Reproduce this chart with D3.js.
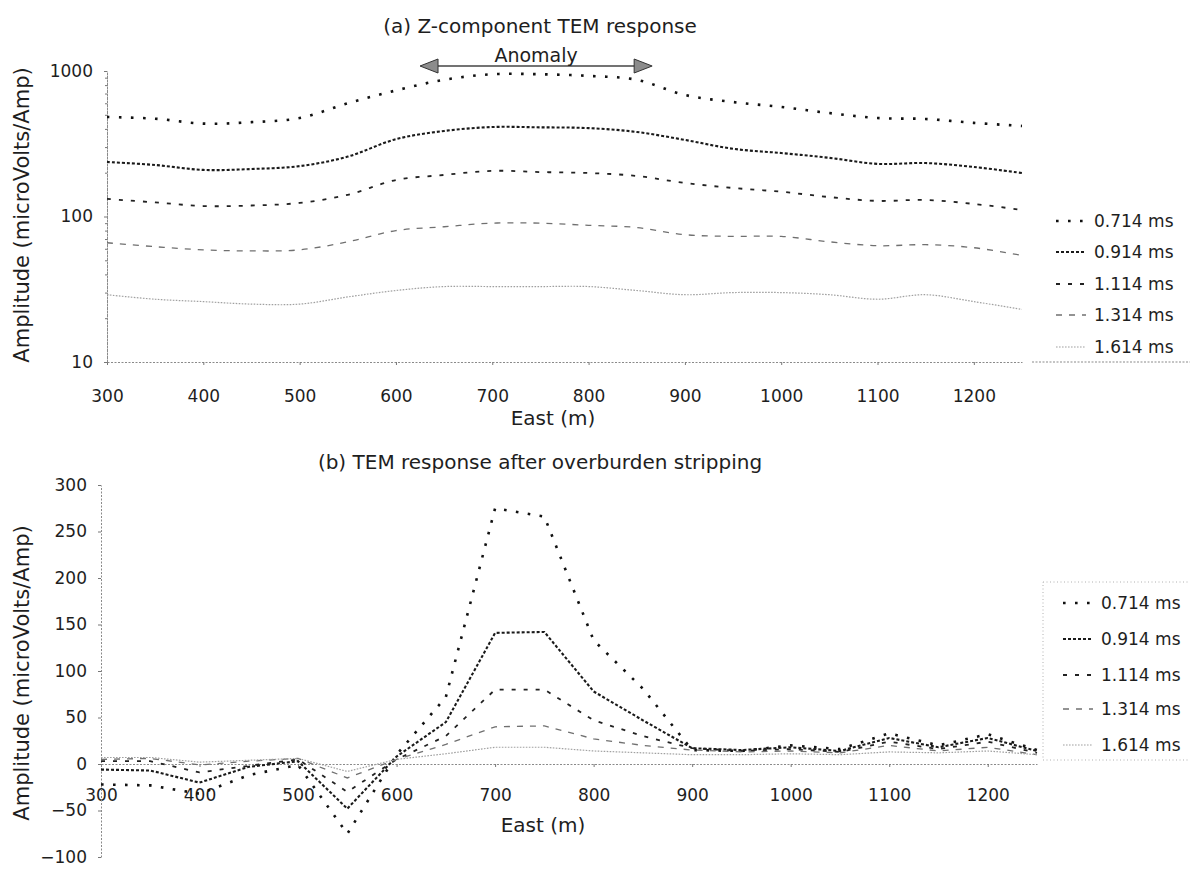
<!DOCTYPE html>
<html>
<head>
<meta charset="utf-8">
<script src="https://cdn.jsdelivr.net/npm/d3@7"></script>
<style>
    body { margin: 0; background: #fff; }
    svg text { font-family: "DejaVu Sans", sans-serif; fill: #1e1e1e; }
    .axis path.domain { stroke: #8a8a8a; stroke-dasharray: 2 1.5; }
    .axis line { stroke: #777; }
</style>
</head>
<body>
<svg id="fig" width="1190" height="870"></svg>
<script>
// station positions (m)
const east = [300, 350, 400, 450, 500, 550, 600, 650, 700, 750,
              800, 850, 900, 950, 1000, 1050, 1100, 1150, 1200, 1250];
const delays = ["0.714 ms", "0.914 ms", "1.114 ms", "1.314 ms", "1.614 ms"];

// (a) Z-component response, microVolts/Amp
const za_0714 = [483, 470, 435, 445, 475, 600, 735, 870, 950, 950, 925, 870, 684, 612, 566, 514, 475, 468, 440, 419];
const za_0914 = [237, 226, 209, 212, 222, 258, 340, 387, 412, 410, 405, 381, 336, 292, 273, 253, 230, 233, 219, 199];
const za_1114 = [132, 125, 118, 119, 124, 141, 178, 193, 206, 202, 199, 190, 170, 157, 148, 136, 128, 130, 122, 111];
const za_1314 = [66, 62, 59, 58, 59, 67, 80, 85, 90, 90, 87, 84, 75, 73, 73, 67, 63, 64, 61, 54];
const za_1614 = [29, 27, 26, 25, 25, 28, 31, 33, 33, 33, 33, 31, 29, 30, 30, 29, 27, 29, 26, 23];

// (b) after overburden stripping
const zb_0714 = [-22, -23, -32, -12, -1, -75, 10, 72, 275, 266, 133, 81, 15, 14, 20, 16, 33, 20, 32, 15];
const zb_0914 = [-6, -7, -20, -3, 3, -48, 8, 45, 141, 142, 78, 47, 17, 15, 18, 14, 28, 18, 28, 14];
const zb_1114 = [3, 3, -9, -2, 5, -30, 5, 30, 80, 80, 47, 30, 17, 14, 16, 13, 24, 16, 24, 12];
const zb_1314 = [5, 6, -1, 3, 6, -15, 5, 21, 40, 41, 27, 20, 15, 13, 14, 12, 20, 14, 18, 10];
const zb_1614 = [7, 7, 2, 4, 6, -8, 5, 11, 18, 18, 14, 12, 10, 10, 11, 10, 13, 12, 14, 10];

const xTicks = [300, 400, 500, 600, 700, 800, 900, 1000, 1100, 1200];
const anomalyRange = [625, 866];

// line look for each delay (Excel-like dash styles)
const styles = [
    {color: "#111", width: 2.6, dash: "2.6 9.4"},
    {color: "#1a1a1a", width: 2.1, dash: "3 2"},
    {color: "#222", width: 1.8, dash: "4 8"},
    {color: "#707070", width: 1.3, dash: "6 7"},
    {color: "#a0a0a0", width: 1.2, dash: "1.6 1.4"}
];

let svg = d3.select("#fig");
let fmt = d3.format("d");

function build(valuesList) {
    return valuesList.map(function (vals, i) {
        return {name: delays[i], points: east.map(function (e, j) { return [e, vals[j]]; })};
    });
}

function draw_lines(g, data, x, y, curve) {
    let line = d3.line()
        .x(function (d) { return x(d[0]); })
        .y(function (d) { return y(d[1]); })
        .curve(curve);
    g.selectAll(".series")
        .data(data)
        .enter().append("path")
        .attr("class", "series")
        .attr("fill", "none")
        .attr("d", function (d) { return line(d.points); })
        .attr("stroke", function (d, i) { return styles[i].color; })
        .attr("stroke-width", function (d, i) { return styles[i].width; })
        .attr("stroke-dasharray", function (d, i) { return styles[i].dash; });
}

function draw_legend(g, x0, x1, ys) {
    delays.forEach(function (name, i) {
        g.append("line")
            .attr("x1", x0).attr("x2", x1)
            .attr("y1", ys[i]).attr("y2", ys[i])
            .attr("stroke", styles[i].color)
            .attr("stroke-width", styles[i].width)
            .attr("stroke-dasharray", styles[i].dash);
        g.append("text")
            .attr("x", x1 + 8).attr("y", ys[i])
            .attr("dy", "0.36em")
            .attr("font-size", 17)
            .text(name);
    });
}

function axis_titles(yTitleY, eastY, eastX, titleY, titleText) {
    svg.append("text")
        .attr("transform", `translate(${29},${yTitleY}) rotate(270)`)
        .attr("text-anchor", "middle")
        .attr("font-size", 21)
        .text("Amplitude (microVolts/Amp)");
    svg.append("text")
        .attr("x", eastX).attr("y", eastY)
        .attr("text-anchor", "middle")
        .attr("dy", "0.36em")
        .attr("font-size", 20)
        .text("East (m)");
    svg.append("text")
        .attr("x", 540).attr("y", titleY)
        .attr("text-anchor", "middle")
        .attr("dy", "0.36em")
        .attr("font-size", 20)
        .text(titleText);
}

// ---------- (a) ----------
let xA = d3.scaleLinear().domain([300, 1250]).range([107, 1022]);
let yA = d3.scaleLog().domain([10, 1000]).range([362, 71]);
let gA = svg.append("g");

gA.append("g").attr("class", "axis")
    .attr("transform", `translate(0,${362})`)
    .call(d3.axisBottom(xA).tickValues(xTicks).tickFormat(fmt)
        .tickSizeInner(3).tickSizeOuter(0).tickPadding(25))
    .selectAll("text").attr("font-size", 17);

let minorA = [];
[10, 100].forEach(function (d) { for (let k = 2; k < 10; k++) minorA.push(d * k); });
gA.append("g").attr("class", "axis")
    .attr("transform", `translate(${107},0)`)
    .call(d3.axisLeft(yA).tickValues(minorA).tickSize(2).tickFormat(""));
gA.append("g").attr("class", "axis")
    .attr("transform", `translate(${107},0)`)
    .call(d3.axisLeft(yA).tickValues([10, 100, 1000]).tickFormat(fmt)
        .tickSizeInner(3).tickSizeOuter(0).tickPadding(11))
    .selectAll("text").attr("font-size", 17);

draw_lines(gA, build([za_0714, za_0914, za_1114, za_1314, za_1614]), xA, yA, d3.curveCatmullRom.alpha(0.5));

// legend frame, only its lower edge shows
gA.append("line")
    .attr("x1", 1032).attr("x2", 1190).attr("y1", 362).attr("y2", 362)
    .attr("stroke", "#8a8a8a").attr("stroke-dasharray", "2 1.5");
draw_legend(gA, 1056, 1086, [221, 252, 284, 315, 347]);

// anomaly arrow
let arrowY = 66;
let ax0 = xA(anomalyRange[0]), ax1 = xA(anomalyRange[1]);
gA.append("line")
    .attr("x1", ax0 + 14).attr("x2", ax1 - 14)
    .attr("y1", arrowY).attr("y2", arrowY)
    .attr("stroke", "#444").attr("stroke-width", 1.3);
gA.append("path")
    .attr("d", `M${ax0},${arrowY} L${ax0 + 18},${arrowY - 7} L${ax0 + 18},${arrowY + 7} Z`)
    .attr("fill", "#8c8c8c").attr("stroke", "#333").attr("stroke-width", 1);
gA.append("path")
    .attr("d", `M${ax1},${arrowY} L${ax1 - 18},${arrowY - 7} L${ax1 - 18},${arrowY + 7} Z`)
    .attr("fill", "#8c8c8c").attr("stroke", "#333").attr("stroke-width", 1);
gA.append("text")
    .attr("x", (ax0 + ax1) / 2).attr("y", 55)
    .attr("dy", "0.36em")
    .attr("text-anchor", "middle")
    .attr("font-size", 19)
    .text("Anomaly");

axis_titles(215, 418, 553, 26, "(a) Z-component TEM response");

// ---------- (b) ----------
let xB = d3.scaleLinear().domain([300, 1250]).range([101, 1037]);
let yB = d3.scaleLinear().domain([-100, 300]).range([857, 485]);
let gB = svg.append("g");

gB.append("g").attr("class", "axis")
    .attr("transform", `translate(0,${yB(0)})`)
    .call(d3.axisBottom(xB).tickValues(xTicks).tickFormat(fmt)
        .tickSizeInner(3).tickSizeOuter(0).tickPadding(22))
    .selectAll("text").attr("font-size", 17);

gB.append("g").attr("class", "axis")
    .attr("transform", `translate(${101},0)`)
    .call(d3.axisLeft(yB).tickValues(d3.range(-100, 301, 50))
        .tickSizeInner(3).tickSizeOuter(0).tickPadding(11))
    .selectAll("text").attr("font-size", 17);

draw_lines(gB, build([zb_0714, zb_0914, zb_1114, zb_1314, zb_1614]), xB, yB, d3.curveLinear);

gB.append("rect")
    .attr("x", 1043).attr("y", 582).attr("width", 160).attr("height", 178)
    .attr("fill", "none").attr("stroke", "#b0b0b0").attr("stroke-dasharray", "1 2.5");
draw_legend(gB, 1063, 1093, [603, 639, 675, 709, 745]);

axis_titles(673, 825, 543, 462, "(b) TEM response after overburden stripping");
</script>
</body>
</html>
